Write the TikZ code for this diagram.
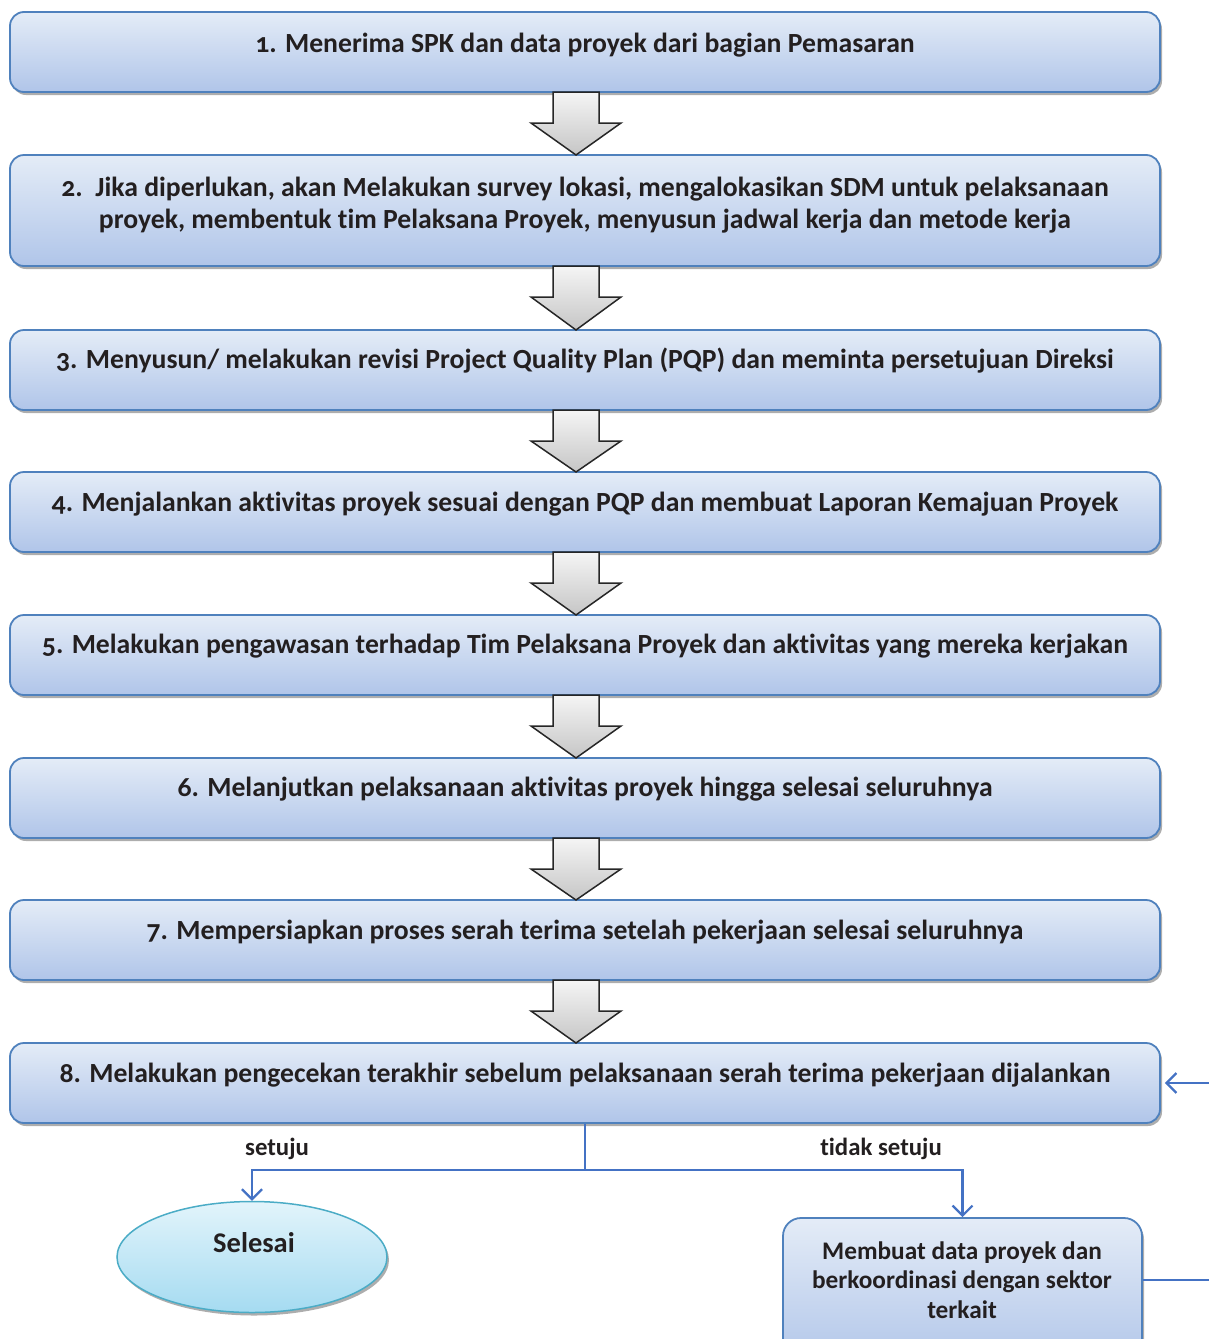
\documentclass[tikz,border=0pt]{standalone}
\usepackage{fontspec}
\setmainfont{Carlito}[Numbers=OldStyle,Ligatures=NoCommon]
\usetikzlibrary{shadows,arrows.meta,shapes.geometric}
\newcommand\tiNL{t\kern0pt i}
\definecolor{bxborder}{RGB}{79,129,189}
\definecolor{bxtop}{RGB}{228,236,247}
\definecolor{bxbot}{RGB}{176,197,233}
\definecolor{eltop}{RGB}{226,244,251}
\definecolor{elbot}{RGB}{165,219,241}
\definecolor{elborder}{RGB}{75,172,198}
\definecolor{lnblue}{RGB}{68,114,196}
\definecolor{txt}{RGB}{35,31,32}
\tikzset{
  stepbox/.style={rectangle, rounded corners=14pt, draw=bxborder, line width=1.8pt,
    top color=bxtop, bottom color=bxbot, minimum width=1150pt,
    drop shadow={shadow xshift=2pt, shadow yshift=-3pt, fill=black!40, opacity=0.8}},
  steptext/.style={font=\bfseries\fontsize{27.7}{32}\selectfont, text=txt, align=center},
  blockarr/.style={draw=black!85, line width=1.5pt, top color=gray!8, bottom color=gray!45, line join=miter},
  conn/.style={draw=lnblue, line width=2.2pt},
  connarr/.style={conn, -{Straight Barb[length=10pt,width=20pt,line width=2.2pt]}},
  lbl/.style={font=\bfseries\fontsize{24.8}{28}\selectfont, text=txt},
}
\begin{document}
\begin{tikzpicture}[x=1pt,y=-1pt]
\useasboundingbox (0,0) rectangle (1208,1339);
% boxes
\node[stepbox, minimum height=80pt]  (b1) at (585,52) {};
\node[stepbox, minimum height=111pt] (b2) at (585,210.5) {};
\node[stepbox, minimum height=80pt]  (b3) at (585,370) {};
\node[stepbox, minimum height=80pt]  (b4) at (585,512) {};
\node[stepbox, minimum height=80pt]  (b5) at (585,655) {};
\node[stepbox, minimum height=80pt]  (b6) at (585,798) {};
\node[stepbox, minimum height=80pt]  (b7) at (585,940) {};
\node[stepbox, minimum height=80pt]  (b8) at (585,1083) {};
% texts
\node[steptext] (t1) at (585,45) {1. Menerima SPK dan data proyek dari bagian Pemasaran};
\node[steptext] (t2) at (585,205) {2.\ \ Jika diperlukan, akan Melakukan survey lokasi, mengalokasikan SDM untuk pelaksanaan\\proyek, membentuk \tiNL m Pelaksana Proyek, menyusun jadwal kerja dan metode kerja};
\node[steptext] (t3) at (585,361) {3. Menyusun/ melakukan revisi Project Quality Plan (PQP) dan meminta persetujuan Direksi};
\node[steptext] (t4) at (585,504) {4. Menjalankan ak\tiNL vitas proyek sesuai dengan PQP dan membuat Laporan Kemajuan Proyek};
\node[steptext] (t5) at (585,646) {5. Melakukan pengawasan terhadap Tim Pelaksana Proyek dan ak\tiNL vitas yang mereka kerjakan};
\node[steptext] (t6) at (585,789) {6. Melanjutkan pelaksanaan ak\tiNL vitas proyek hingga selesai seluruhnya};
\node[steptext] (t7) at (585,932) {7. Mempersiapkan proses serah terima setelah pekerjaan selesai seluruhnya};
\node[steptext] (t8) at (585,1075) {8. Melakukan pengecekan terakhir sebelum pelaksanaan serah terima pekerjaan dijalankan};
% block arrows
\foreach \ya/\yb in {92/155, 266/330, 410/472, 552/615, 695/758, 838/900, 980/1043}{
  \path[blockarr] (553,\ya) -- (599,\ya) -- (599,\ya+31) -- (621,\ya+31) -- (576,\yb) -- (531,\ya+31) -- (553,\ya+31) -- cycle;
}
% end ellipse
\node[ellipse, draw=elborder, line width=1.5pt, top color=eltop, bottom color=elbot,
  minimum width=270pt, minimum height=111pt, inner sep=0pt,
  drop shadow={shadow xshift=2pt, shadow yshift=-3pt, fill=black!40, opacity=0.8}] (sel) at (252,1257) {};
\node[font=\bfseries\fontsize{28.5}{32}\selectfont, text=txt] (selt) at (254,1243) {Selesai};
% rework box
\node[stepbox, minimum width=359pt, minimum height=150pt, rounded corners=18pt] (rw) at (962.5,1293) {};
\node[font=\bfseries\fontsize{25.3}{29.5}\selectfont, text=txt, align=center] (rwt) at (962,1280) {Membuat data proyek dan\\berkoordinasi dengan sektor\\terkait};
% connectors
\coordinate (split) at (585,1170);
\draw[conn] (b8.south) -- (split);
\draw[connarr] (split) -| (sel.north);
\draw[connarr] (split) -| (rw.north);
\coordinate (rwout) at (1212,1280);
\coordinate (backin) at (1212,1083);
\draw[conn] (rw.east |- rwout) -- (rwout);
\draw[connarr] (backin) -- ([xshift=4pt]b8.east);
\node[lbl] (ls) at (277,1149) {setuju};
\node[lbl] (lt) at (881,1149) {\tiNL dak setuju};
\end{tikzpicture}
\end{document}
